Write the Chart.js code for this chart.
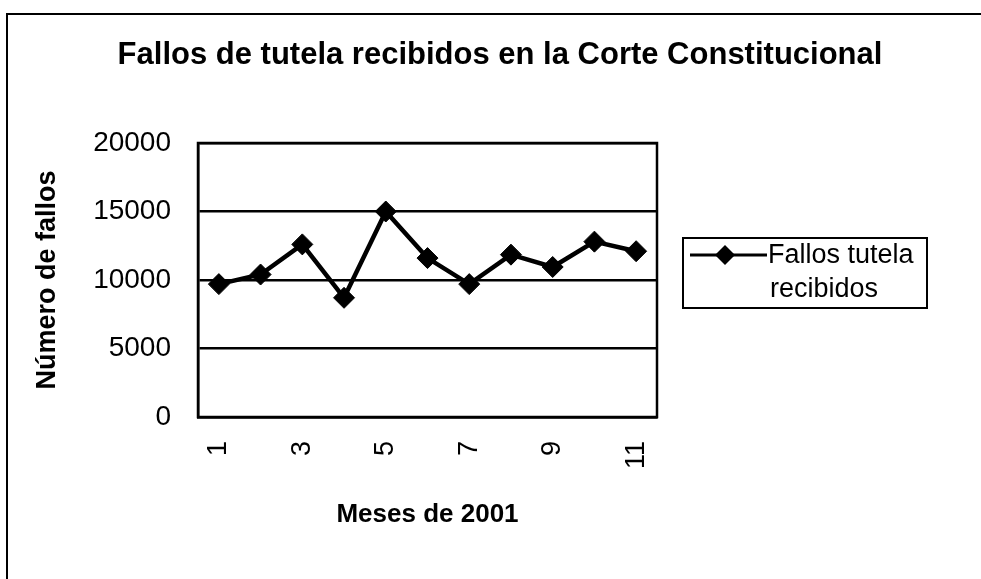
<!DOCTYPE html>
<html>
<head>
<meta charset="utf-8">
<title>Fallos de tutela</title>
<script src="https://cdn.jsdelivr.net/npm/chart.js"></script>
<style>
  body { margin: 0; background: #fff; }
  canvas { display: block; }
</style>
</head>
<body>
<canvas id="grafico" width="981" height="579"></canvas>
<script>
// datos
const meses = ['1', '2', '3', '4', '5', '6', '7', '8', '9', '10', '11'];
const fallos = [9700, 10400, 12600, 8700, 15000, 11600, 9700, 11850, 10950, 12800, 12100];
const ticksY = [0, 5000, 10000, 15000, 20000];
const titulo = 'Fallos de tutela recibidos en la Corte Constitucional';
const leyenda = ['Fallos tutela', 'recibidos'];

const fuente = "'Liberation Sans', Arial, sans-serif";

// marco, titulo y leyenda dibujados a mano
const extras = {
    id: 'extras',
    afterDraw(chart) {
        const ctx = chart.ctx;
        const a = chart.chartArea;
        ctx.save();
        ctx.strokeStyle = '#000';

        // marco exterior
        ctx.lineWidth = 2;
        ctx.beginPath();
        ctx.moveTo(7, 579);
        ctx.lineTo(7, 14);
        ctx.lineTo(981, 14);
        ctx.stroke();

        // borde del area
        ctx.lineWidth = 2.5;
        ctx.strokeRect(a.left, a.top, a.right - a.left, a.bottom - a.top);

        // titulo
        ctx.fillStyle = '#000';
        ctx.font = 'bold 31px ' + fuente;
        ctx.textAlign = 'center';
        ctx.textBaseline = 'middle';
        ctx.fillText(titulo, 500, 55);

        // leyenda
        ctx.lineWidth = 2;
        ctx.strokeRect(683, 238, 244, 70);
        ctx.lineWidth = 3;
        ctx.beginPath();
        ctx.moveTo(690, 255);
        ctx.lineTo(767, 255);
        ctx.stroke();
        ctx.beginPath();
        ctx.moveTo(725, 245);
        ctx.lineTo(735, 255);
        ctx.lineTo(725, 265);
        ctx.lineTo(715, 255);
        ctx.closePath();
        ctx.fill();
        ctx.font = '27px ' + fuente;
        ctx.textAlign = 'left';
        ctx.fillText(leyenda[0], 768, 256);
        ctx.fillText(leyenda[1], 770, 290);
        ctx.restore();
    }
};

const grafico = document.getElementById('grafico').getContext('2d');

const myChart = new Chart(grafico, {
    type: 'line',
    data: {
        labels: meses,
        datasets: [{
            label: leyenda.join(' '),
            data: fallos,
            borderColor: '#000',
            backgroundColor: '#000',
            borderWidth: 4.5,
            tension: 0,
            pointStyle: 'rectRot',
            pointRadius: 10.5,
            pointBorderWidth: 1,
            pointBackgroundColor: '#000',
            pointBorderColor: '#000'
        }]
    },
    options: {
        responsive: false,
        animation: false,
        layout: {
            padding: { top: 143, right: 324, bottom: 0, left: 0 }
        },
        plugins: {
            legend: { display: false },
            title: { display: false },
            tooltip: { enabled: false }
        },
        scales: {
            x: {
                offset: true,
                grid: { display: false, drawTicks: false },
                border: { display: true, color: '#000', width: 2.5 },
                ticks: {
                    autoSkip: false,
                    maxRotation: 90,
                    minRotation: 90,
                    padding: 24,
                    color: '#000',
                    font: { family: fuente, size: 27 },
                    callback: function (v, i) {
                        return i % 2 === 0 ? this.getLabelForValue(v) : '';
                    }
                },
                title: {
                    display: true,
                    text: 'Meses de 2001',
                    color: '#000',
                    font: { family: fuente, size: 26, weight: 'bold' },
                    padding: { top: 0, bottom: 49 }
                },
                afterFit: (s) => { s.height = 162; }
            },
            y: {
                min: 0,
                max: 20000,
                afterBuildTicks: (s) => { s.ticks = ticksY.map(v => ({ value: v })); },
                grid: { color: '#000', lineWidth: 2.5, drawTicks: false },
                border: { display: true, color: '#000', width: 2.5 },
                ticks: {
                    padding: 27,
                    color: '#000',
                    font: { family: fuente, size: 28 },
                    callback: (v) => String(v)
                },
                title: {
                    display: true,
                    text: 'Número de fallos',
                    color: '#000',
                    font: { family: fuente, size: 27, weight: 'bold' },
                    padding: { top: 31, bottom: 0 }
                },
                afterFit: (s) => { s.width = 198; }
            }
        }
    },
    plugins: [extras]
});
</script>
</body>
</html>
